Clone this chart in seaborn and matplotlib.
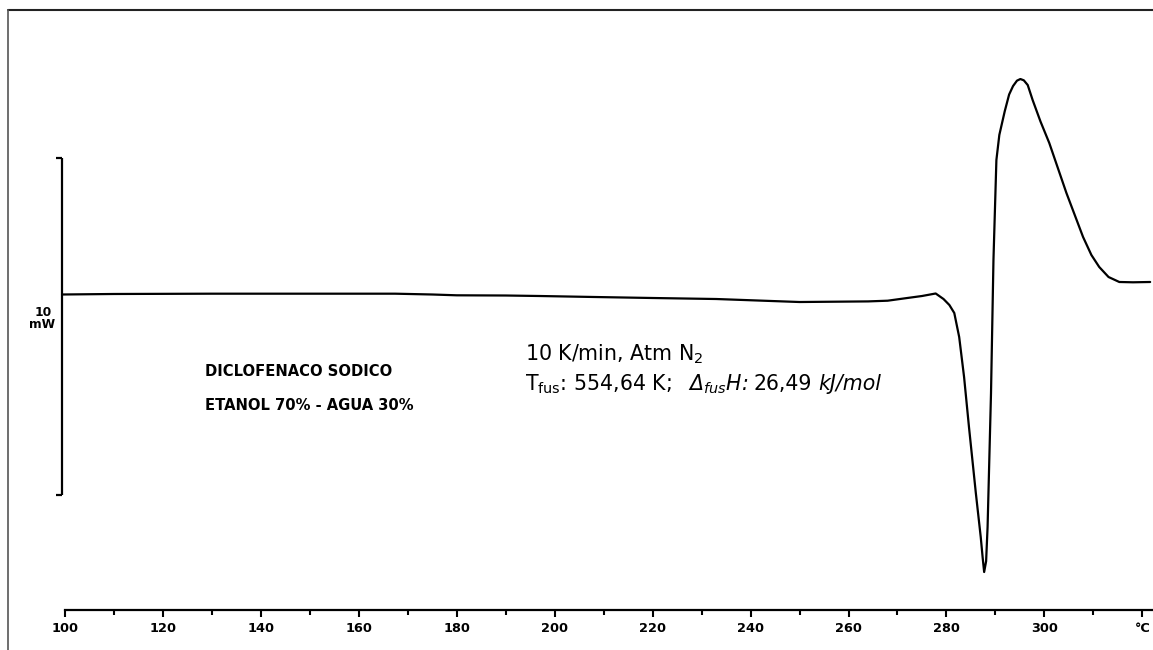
import numpy as np
import pandas as pd
import matplotlib
matplotlib.use("Agg")
import matplotlib.pyplot as plt
from matplotlib.lines import Line2D
import seaborn as sns

# DSC trace: temperature (°C) and heat flow (mW, relative to the starting baseline)
temperature = [99.4, 110, 130, 150, 167.4, 175, 180, 190, 197, 208, 220, 233,
               250, 264, 268, 272, 275, 277.8, 279.4, 280.6, 281.6, 282.6, 283.6,
               284.6, 286.0, 287.0, 287.4, 287.7, 288.1, 288.4, 289.1, 289.6,
               290.2, 290.8, 291.9, 292.8, 293.6, 294.4, 295.1, 295.8, 296.6,
               297.6, 299.2, 301.0, 304.5, 307.9, 309.6, 311.2, 313.1, 315.3,
               318.1, 321.6]
heat_flow = [0.015, 0.030, 0.039, 0.039, 0.039, 0.015, -0.009, -0.015, -0.030,
             -0.059, -0.089, -0.119, -0.208, -0.190, -0.169, -0.089, -0.030,
             0.045, -0.119, -0.297, -0.534, -1.246, -2.433, -3.917, -5.875,
             -7.181, -7.800, -8.220, -7.900, -6.884, -2.908, 1.039, 4.006,
             4.750, 5.450, 5.950, 6.200, 6.360, 6.409, 6.370, 6.230, 5.786,
             5.150, 4.510, 3.027, 1.721, 1.187, 0.831, 0.534, 0.386, 0.377,
             0.386]

major_ticks = [100, 120, 140, 160, 180, 200, 220, 240, 260, 280, 300, 320]
major_labels = ["100", "120", "140", "160", "180", "200", "220", "240",
                "260", "280", "300", "°C"]
minor_ticks = [110, 130, 150, 170, 190, 210, 230, 250, 270, 290, 310]

scale_bar_mw = 10
scale_bar_bottom = -5.935
axis_level = -9.347

sample_lines = ["DICLOFENACO SODICO", "ETANOL 70% - AGUA 30%"]
conditions = "10 K/min, Atm N$_2$"
# second annotation line, split into upright / italic runs
result_runs = [
    (r"T$_{\mathrm{fus}}$: 554,64 K;", "normal", 0),
    (r"Δ$_{fus}$H:", "italic", 16),
    ("26,49", "normal", 6),
    ("kJ/mol", "italic", 6),
]

sns.set_style("white")
plt.rcParams["font.family"] = ["DejaVu Sans"]
plt.rcParams["text.color"] = "black"
plt.rcParams["mathtext.fontset"] = "custom"
plt.rcParams["mathtext.rm"] = "DejaVu Sans"
plt.rcParams["mathtext.it"] = "DejaVu Sans:italic"
plt.rcParams["mathtext.bf"] = "DejaVu Sans:bold"

W, H = 1153, 650
fig = plt.figure(figsize=(W / 100, H / 100), dpi=100)
fig.patch.set_facecolor("white")

ax = fig.add_axes([8 / W, 0, 1 - 8 / W, 1 - 10 / H])
ax.set_facecolor("white")

df = pd.DataFrame({"T": temperature, "HF": heat_flow})
sns.lineplot(data=df, x="T", y="HF", ax=ax, color="black", linewidth=1.6,
             sort=False, estimator=None)

ax.set_xlim(88.36, 322.18)
ax.set_ylim(-10.534, 8.457)

for side in ("top", "right", "left"):
    ax.spines[side].set_visible(False)
ax.spines["bottom"].set_position(("data", axis_level))
ax.spines["bottom"].set_bounds(100, 322.18)
ax.spines["bottom"].set_linewidth(1.6)
ax.spines["bottom"].set_color("black")

ax.set_xticks(major_ticks)
ax.set_xticklabels(major_labels, fontsize=9.3, fontweight="bold",
                   color="black")
ax.set_xticks(minor_ticks, minor=True)
ax.tick_params(axis="x", which="both", bottom=True, top=False)
ax.tick_params(axis="x", which="major", direction="out", length=5.2,
               width=1.5, color="black", pad=3.5)
ax.tick_params(axis="x", which="minor", direction="out", length=3.3,
               width=1.5, color="black")
ax.set_yticks([])
ax.set_xlabel("")
ax.set_ylabel("")

# vertical scale bar for heat flow
bar_x = 99.39
bar_top = scale_bar_bottom + scale_bar_mw
ax.plot([bar_x, bar_x], [scale_bar_bottom, bar_top], color="black", lw=1.6,
        solid_capstyle="butt")
for yy in (scale_bar_bottom, bar_top):
    ax.plot([98.16, bar_x], [yy, yy], color="black", lw=1.6,
            solid_capstyle="butt")

def px(x, y):
    return x / W, 1 - y / H

fig.text(*px(52, 312), f"{scale_bar_mw}", ha="right", va="center",
         fontsize=8.8, fontweight="bold")
fig.text(*px(55, 325), "mW", ha="right", va="center",
         fontsize=8.8, fontweight="bold")

fig.text(*px(205, 371), sample_lines[0], ha="left", va="center",
         fontsize=10.6, fontweight="bold")
fig.text(*px(205, 406), sample_lines[1], ha="left", va="center",
         fontsize=10.6, fontweight="bold")

annot_size = 14.8
fig.text(*px(525, 360), conditions, ha="left", va="baseline",
         fontsize=annot_size)

renderer = fig.canvas.get_renderer()
x_cursor = 525
for text, style, gap in result_runs:
    x_cursor += gap
    t = fig.text(*px(x_cursor, 390), text, ha="left", va="baseline",
                 fontsize=annot_size, fontstyle=style)
    bb = t.get_window_extent(renderer)
    x_cursor = bb.x1

# outer frame lines
fig.add_artist(Line2D([8 / W, 1], [1 - 10 / H, 1 - 10 / H],
                      transform=fig.transFigure, color="#222222", lw=1.5))
fig.add_artist(Line2D([8 / W, 8 / W], [0, 1 - 10 / H],
                      transform=fig.transFigure, color="#555555", lw=1.2))

fig.savefig("out.png", dpi=100, facecolor="white")
